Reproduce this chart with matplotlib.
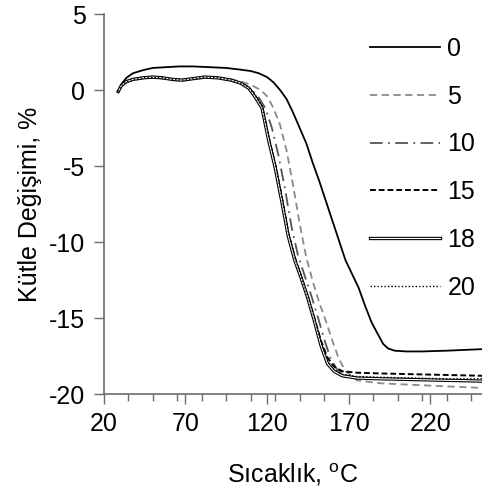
import matplotlib
matplotlib.use("Agg")
import matplotlib.pyplot as plt
import matplotlib.patheffects as pe
from matplotlib.ticker import MultipleLocator, FixedLocator

plt.rcParams['font.family'] = ['Liberation Sans', 'DejaVu Sans']
plt.rcParams['mathtext.fontset'] = 'custom'
plt.rcParams['mathtext.rm'] = 'Liberation Sans'
plt.rcParams['axes.unicode_minus'] = False

# values (temperature in C, mass change in %)
t0 = [29, 31, 34, 38, 44, 50, 58, 66, 75, 85, 95, 103, 110, 115, 120, 124, 128, 132, 136, 140,
      144, 148, 152, 156, 160, 164, 168, 172, 176, 180, 184, 188, 191, 194, 198, 205, 215, 230, 251.5]
m0 = [-0.1, 0.4, 0.8, 1.1, 1.3, 1.45, 1.5, 1.55, 1.55, 1.5, 1.45, 1.35, 1.25, 1.1, 0.85, 0.5, 0.0, -0.6, -1.5, -2.5,
      -3.5, -4.8, -6.0, -7.3, -8.6, -9.9, -11.2, -12.1, -13.0, -14.2, -15.3, -16.1, -16.7, -17.0, -17.15, -17.2, -17.2, -17.15, -17.05]

t5 = [29, 31, 34, 38, 44, 50, 56, 62, 68, 75, 82, 90, 98, 104, 110, 116, 120, 124, 128, 132, 136,
      140, 144, 148, 152, 156, 160, 164, 168, 175, 190, 210, 230, 251.5]
m5 = [-0.1, 0.3, 0.5, 0.65, 0.75, 0.8, 0.75, 0.65, 0.6, 0.7, 0.8, 0.8, 0.7, 0.55, 0.35, 0.0, -0.4, -1.2, -2.3, -4.0, -6.3,
      -8.8, -11.0, -12.6, -14.0, -15.2, -16.5, -17.7, -18.5, -19.1, -19.3, -19.4, -19.5, -19.6]

t10 = [29, 31, 34, 38, 44, 50, 56, 62, 68, 75, 82, 90, 98, 104, 110, 115, 119, 123, 127, 131, 135,
       139, 143, 147, 151, 155, 159, 163, 168, 175, 190, 210, 230, 251.5]
m10 = [-0.1, 0.3, 0.55, 0.7, 0.8, 0.85, 0.8, 0.7, 0.65, 0.75, 0.85, 0.8, 0.65, 0.45, 0.1, -0.5, -1.2, -2.5, -4.3, -6.5, -9.0,
       -10.9, -12.2, -13.5, -14.9, -16.4, -17.7, -18.4, -18.8, -18.95, -19.0, -19.05, -19.1, -19.15]

t15 = [29, 31, 34, 38, 44, 50, 56, 62, 68, 75, 82, 90, 98, 104, 109, 113, 117, 121, 125, 129, 133,
       137, 141, 145, 149, 153, 157, 161, 166, 175, 190, 210, 230, 251.5]
m15 = [-0.1, 0.3, 0.55, 0.7, 0.8, 0.85, 0.8, 0.7, 0.65, 0.75, 0.85, 0.8, 0.65, 0.45, 0.15, -0.4, -1.1, -3.1, -4.9, -7.0, -9.4,
       -11.0, -12.3, -13.6, -15.0, -16.5, -17.6, -18.2, -18.5, -18.6, -18.65, -18.7, -18.75, -18.8]

t18 = [29, 31, 34, 38, 44, 50, 56, 62, 68, 75, 82, 90, 98, 104, 109, 113, 117, 121, 125, 129, 133,
       137, 141, 145, 149, 153, 157, 161, 166, 175, 190, 210, 230, 251.5]
m18 = [-0.1, 0.3, 0.55, 0.7, 0.8, 0.85, 0.8, 0.7, 0.65, 0.75, 0.85, 0.8, 0.65, 0.45, 0.1, -0.5, -1.2, -3.3, -5.1, -7.3, -9.6,
       -11.2, -12.4, -13.7, -15.2, -16.8, -18.0, -18.5, -18.8, -18.95, -19.0, -19.05, -19.1, -19.15]

t20 = [29, 31, 34, 38, 44, 50, 56, 62, 68, 75, 82, 90, 98, 104, 109, 113, 117, 121, 125, 129, 133,
       137, 141, 145, 149, 153, 157, 161, 166, 175, 190, 210, 230, 251.5]
m20 = [-0.1, 0.3, 0.55, 0.7, 0.8, 0.85, 0.8, 0.7, 0.65, 0.75, 0.85, 0.8, 0.65, 0.45, 0.15, -0.4, -1.1, -3.0, -4.8, -7.0, -9.3,
       -11.0, -12.3, -13.6, -15.0, -16.6, -17.8, -18.4, -18.7, -18.85, -18.9, -18.95, -19.0, -19.0]

labels = ['0', '5', '10', '15', '18', '20']
xticks = [20, 70, 120, 170, 220]
yticks = [5, 0, -5, -10, -15, -20]

fig = plt.figure(figsize=(4.82, 4.99), dpi=100)
ax = fig.add_axes([103.5 / 482, 105 / 499, 378.5 / 482, 380 / 499])

ax.plot(t0, m0, color='black', lw=1.3, label=labels[0])
ax.plot(t5, m5, color='#8a8a8a', lw=1.3, ls=(0, (4, 2.5)), label=labels[1])
ax.plot(t10, m10, color='#555555', lw=1.3, ls=(0, (7, 3, 1, 3)), label=labels[2])
ax.plot(t15, m15, color='black', lw=1.4, ls=(0, (3, 1.5)), label=labels[3])
ax.plot(t18, m18, color='white', lw=0.8, label=labels[4],
        path_effects=[pe.Stroke(linewidth=2.4, foreground='black'), pe.Normal()])
ax.plot(t20, m20, color='black', lw=1.0, ls=(0, (1, 1.5)), label=labels[5])

ax.set_xlim(20, 251.5)
ax.set_ylim(-20, 5)
ax.xaxis.set_major_locator(FixedLocator(xticks))
ax.xaxis.set_minor_locator(MultipleLocator(15, offset=20))
ax.yaxis.set_major_locator(FixedLocator(yticks))

for s in ['top', 'right']:
    ax.spines[s].set_visible(False)
ax.spines['left'].set_color('#6b6b6b')
ax.spines['bottom'].set_color('#6b6b6b')
ax.spines['left'].set_linewidth(1.2)
ax.spines['bottom'].set_linewidth(1.2)

ax.tick_params(axis='both', which='major', labelsize=18, color='#6b6b6b', width=1.0, length=7, pad=6)
ax.tick_params(axis='x', which='minor', color='#6b6b6b', width=1.0, length=5)

ax.set_xlabel('Sıcaklık, $^{\\mathrm{o}}$C', fontsize=18, labelpad=18)
ax.set_ylabel('Kütle Değişimi, %', fontsize=18, labelpad=5)

ax.legend(loc='upper left', bbox_to_anchor=(0.704, 0.94), frameon=False, fontsize=18,
          handlelength=2.8, handletextpad=0.3, labelspacing=0.95, borderpad=0, borderaxespad=0)

fig.savefig('out.png', dpi=100)
